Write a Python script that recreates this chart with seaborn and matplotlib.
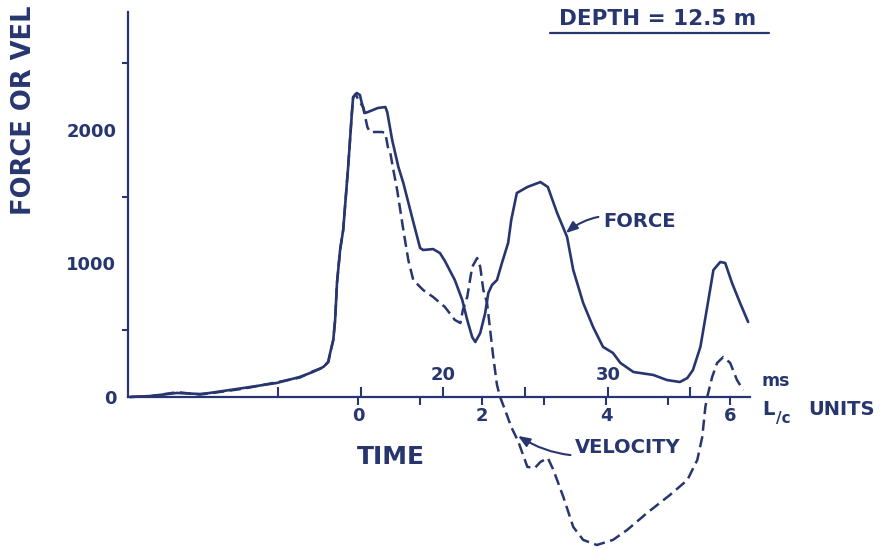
import matplotlib
matplotlib.use("Agg")
import matplotlib.pyplot as plt
from matplotlib.lines import Line2D
import seaborn as sns
import pandas as pd

# Time axis in L/c units (0 = arrival of the impact peak)
force_t = [-3.68, -3.35, -2.92, -2.55, -2.39, -1.85, -1.31, -0.94, -0.73, -0.56,
           -0.48, -0.45, -0.40, -0.37, -0.34, -0.29, -0.24, -0.16, -0.10, -0.08,
           -0.02, 0.03, 0.06, 0.11, 0.16, 0.32, 0.44, 0.47, 0.55, 0.65,
           0.73, 0.87, 1.00, 1.05, 1.21, 1.32, 1.40, 1.56, 1.68, 1.76,
           1.84, 1.89, 1.97, 2.05, 2.10, 2.16, 2.24, 2.32, 2.42, 2.47,
           2.56, 2.73, 2.94, 3.06, 3.21, 3.37, 3.47, 3.63, 3.79, 3.95,
           4.11, 4.23, 4.44, 4.76, 4.98, 5.19, 5.31, 5.40, 5.52, 5.63,
           5.73, 5.84, 5.92, 6.03, 6.16, 6.29]
force_val = [0, 7, 30, 22, 30, 67, 105, 150, 187, 225,
             262, 330, 427, 577, 854, 1101, 1251, 1723, 2127, 2247,
             2277, 2262, 2202, 2127, 2135, 2165, 2172, 2135, 1925, 1723,
             1603, 1348, 1116, 1101, 1108, 1078, 1019, 876, 727, 577,
             449, 412, 479, 629, 779, 839, 876, 1004, 1154, 1326,
             1528, 1573, 1610, 1573, 1378, 1199, 951, 704, 524, 375,
             330, 255, 187, 165, 127, 112, 142, 202, 375, 674,
             951, 1011, 1004, 854, 704, 562]

vel_t = [-3.68, -3.35, -2.92, -2.55, -2.39, -1.85, -1.31, -0.94, -0.73, -0.56,
         -0.48, -0.45, -0.40, -0.37, -0.34, -0.29, -0.24, -0.16, -0.10, -0.08,
         -0.04, 0.00, 0.08, 0.15, 0.19, 0.39, 0.44, 0.48, 0.52, 0.56,
         0.63, 0.73, 0.81, 0.89, 1.05, 1.21, 1.40, 1.56, 1.65, 1.69,
         1.76, 1.84, 1.92, 1.97, 2.02, 2.08, 2.13, 2.18, 2.24, 2.29,
         2.37, 2.47, 2.58, 2.73, 2.85, 2.94, 3.06, 3.15, 3.31, 3.47,
         3.63, 3.85, 4.11, 4.34, 4.66, 5.03, 5.31, 5.47, 5.55, 5.60,
         5.63, 5.71, 5.79, 5.89, 6.00, 6.11, 6.21]
vel_val = [0, 5, 36, 18, 27, 62, 110, 145, 192, 220,
           265, 330, 427, 577, 854, 1101, 1251, 1723, 2127, 2240,
           2270, 2230, 2172, 2022, 1985, 1985, 1977, 1873, 1828, 1723,
           1551, 1251, 1026, 876, 801, 749, 674, 577, 554, 652,
           749, 974, 1041, 974, 801, 704, 502, 300, 90, 0,
           -97, -225, -330, -524, -532, -487, -457, -547, -749, -974,
           -1071, -1109, -1071, -996, -869, -734, -622, -472, -300, -75,
           0, 150, 255, 300, 255, 127, 52]

lc_ticks = [0, 1, 2, 3, 4, 5, 6]
lc_labels = ["0", "", "2", "", "4", "", "6"]
ms_ticks = [10, 15, 20, 25, 30, 35]
ms_labels = ["", "", "20", "", "30", ""]
y_major = [0, 1000, 2000]
y_minor = [500, 1500, 2500]

INK = "#28366f"

sns.set_theme(style="white")
plt.rcParams["font.family"] = ["DejaVu Sans"]
plt.rcParams["font.weight"] = "bold"

fig = plt.figure(figsize=(8.81, 5.5), dpi=100)
ax = fig.add_axes([128 / 881, 1 / 550, 622 / 881, 537 / 550])

force_df = pd.DataFrame({"t": force_t, "force": force_val})
vel_df = pd.DataFrame({"t": vel_t, "velocity": vel_val})

sns.lineplot(data=force_df, x="t", y="force", ax=ax, color=INK, lw=1.9,
             sort=False, estimator=None)
sns.lineplot(data=vel_df, x="t", y="velocity", ax=ax, color=INK, lw=1.8,
             sort=False, estimator=None)
ax.lines[-1].set_dashes([4.5, 2.2])

ax.set_xlim(-3.71, 6.32)
ax.set_ylim(-1139, 2884)
ax.set_xlabel("")
ax.set_ylabel("")

for side in ("top", "right"):
    ax.spines[side].set_visible(False)
ax.spines["bottom"].set_position(("data", 0))
ax.spines["left"].set_bounds(0, 2884)
for side in ("bottom", "left"):
    ax.spines[side].set_color(INK)
    ax.spines[side].set_linewidth(1.6)

ax.set_yticks(y_major)
ax.set_yticks(y_minor, minor=True)
ax.tick_params(axis="y", which="major", direction="out", length=7, width=1.5,
               pad=1.5, labelsize=13, colors=INK)
ax.tick_params(axis="y", which="minor", direction="out", length=4, width=1.5,
               colors=INK, left=True)

ax.set_xticks(lc_ticks, labels=lc_labels)
ax.tick_params(axis="x", direction="out", length=6, width=1.5, pad=1.5,
               labelsize=13, colors=INK, bottom=True)


# Millisecond scale sharing the time axis
def lc_to_ms(t):
    return 14.85 + 3.76 * t


def ms_to_lc(ms):
    return (ms - 14.85) / 3.76


sec = ax.secondary_xaxis(0, functions=(lc_to_ms, ms_to_lc), transform=ax.transData)
sec.set_alignment("top")
sec.spines["top"].set_visible(False)
sec.spines["bottom"].set_visible(False)
sec.set_xticks(ms_ticks, labels=ms_labels)
sec.tick_params(direction="out", length=7, width=1.5, pad=2, labelsize=13,
                colors=INK)

# Axis captions
ax.text(0.53, -449, "TIME", color=INK, fontsize=18, ha="center", va="center")
ax.text(6.73, 120, "ms", color=INK, fontsize=12.5, ha="center", va="center")
ax.text(6.61, -97, "L", color=INK, fontsize=14, ha="center", va="center")
ax.text(6.86, -160, "/c", color=INK, fontsize=11, ha="center", va="center")
ax.text(7.79, -97, "UNITS", color=INK, fontsize=14, ha="center", va="center")

fig.text(24 / 881, 1 - 215 / 550, "FORCE OR VEL", rotation=90, color=INK,
         fontsize=18.5, ha="center", va="bottom")

# Curve labels with leaders
ax.annotate("FORCE", xy=(3.35, 1228), xytext=(3.95, 1311), color=INK,
            fontsize=14, ha="left", va="center",
            arrowprops=dict(arrowstyle="-|>,head_length=0.5,head_width=0.2",
                            color=INK, lw=1.5, shrinkA=1, shrinkB=0,
                            connectionstyle="arc3,rad=0.3"))
ax.annotate("VELOCITY", xy=(2.58, -292), xytext=(3.5, -375), color=INK,
            fontsize=14, ha="left", va="center",
            arrowprops=dict(arrowstyle="-|>,head_length=0.5,head_width=0.2",
                            color=INK, lw=1.5, shrinkA=1, shrinkB=0,
                            connectionstyle="arc3,rad=-0.25"))

# Title with underline
fig.text(658 / 881, 1 - 19 / 550, "DEPTH = 12.5 m", color=INK, fontsize=15.5,
         ha="center", va="center")
fig.add_artist(Line2D([550 / 881, 769 / 881], [1 - 33 / 550] * 2,
                      transform=fig.transFigure, color=INK, lw=1.6))

fig.savefig("out.png", dpi=100, facecolor="white")
